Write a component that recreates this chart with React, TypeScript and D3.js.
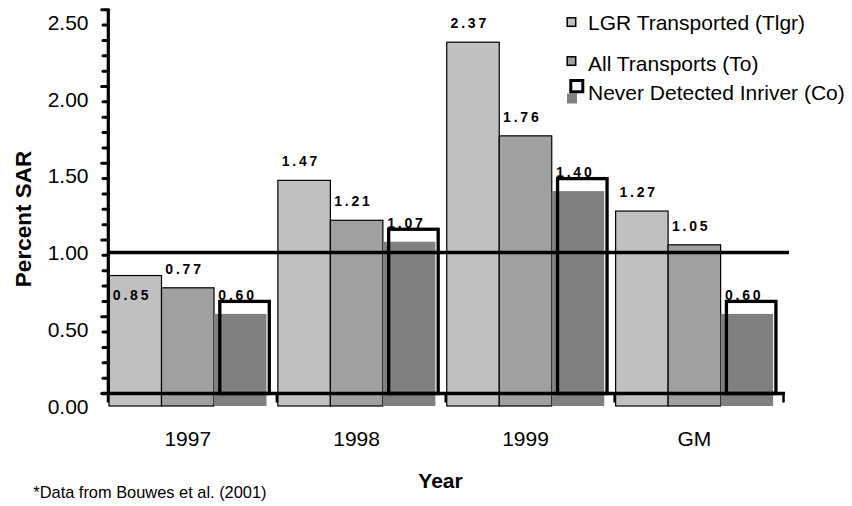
import React from "react";
import * as d3 from "d3";

const categories = ["1997", "1998", "1999", "GM"];
const seriesKeys = ["Tlgr", "To", "Co"];
const tlgrValues = [0.85, 1.47, 2.37, 1.27];
const toValues = [0.77, 1.21, 1.76, 1.05];
const coValues = [0.6, 1.07, 1.4, 0.6];
const labelInside = [[true, false, false], [false, false, false], [false, false, false], [false, false, false]];
const yTickValues = [0, 0.5, 1, 1.5, 2, 2.5];
const legendLabels = ["LGR Transported (Tlgr)", "All Transports (To)", "Never Detected Inriver (Co)"];
const referenceValue = 1.0;

const W = 852;
const H = 506;
const FONT = "'Liberation Sans', Arial, Helvetica, sans-serif";
const colors = ["#c0c0c0", "#a0a0a0", "#808080"];

export default function App() {
  // base system (bars, labels)
  const y = d3.scaleLinear().domain([0, 2.5]).range([406, 406 - 2.5 * 153.5]);
  // shifted system (axes, outline bars)
  const shiftX = 4.3;
  const shiftY = -12.5;
  const y2 = (v: number) => y(v) + shiftY;

  const x = d3.scaleBand<string>().domain(categories).range([108, 783.5]).paddingInner(0).paddingOuter(0);
  const xs = d3.scaleBand<string>().domain(seriesKeys).range([1, 158.5]);
  const bw = xs.bandwidth();
  const allValues = [tlgrValues, toValues, coValues];

  const minorTicks = d3.range(0, 26).map((i) => i / 10);
  const boundaries = categories.map((c) => x(c) as number).concat([x.range()[1]]);

  return (
    <svg width={W} height={H} style={{ position: "absolute", left: 0, top: 0, background: "#fff" }} fontFamily={FONT}>
      <rect x={0} y={0} width={W} height={H} fill="#fff" />
      {/* filled bars */}
      {categories.map((c, ci) => (
        <g key={c}>
          {seriesKeys.map((s, si) => {
            const v = allValues[si][ci];
            const bx = (x(c) as number) + (xs(s) as number);
            return (
              <rect
                key={s}
                x={bx}
                y={y(v)}
                width={bw}
                height={y(0) - y(v)}
                fill={colors[si]}
                stroke={si < 2 ? "#000" : "none"}
                strokeWidth={1.2}
              />
            );
          })}
        </g>
      ))}
      {/* outline bars (shifted) */}
      {categories.map((c, ci) => {
        const bx = (x(c) as number) + (xs("Co") as number) + shiftX;
        const v = coValues[ci];
        return (
          <rect
            key={"o" + c}
            x={bx + 1.5}
            y={y2(v)}
            width={bw - 3}
            height={y2(0) - y2(v)}
            fill="none"
            stroke="#000"
            strokeWidth={3.3}
          />
        );
      })}
      {/* reference line */}
      <line x1={108} x2={789} y1={y(referenceValue)} y2={y(referenceValue)} stroke="#000" strokeWidth={3.5} />
      {/* y axis (shifted) */}
      <line x1={108.3} x2={108.3} y1={y2(2.5) - 1} y2={y2(0)} stroke="#000" strokeWidth={3.2} />
      {minorTicks.map((t) => {
        const major = Math.abs(t * 2 - Math.round(t * 2)) < 1e-6;
        return (
          <line
            key={"t" + t}
            x1={major ? 101.7 : 103}
            x2={108.3}
            y1={y2(t)}
            y2={y2(t)}
            stroke="#000"
            strokeWidth={3}
            strokeLinecap="round"
          />
        );
      })}
      {/* x axis (shifted) */}
      <line x1={101.7} x2={785} y1={y2(0)} y2={y2(0)} stroke="#000" strokeWidth={3.5} />
      {boundaries.map((b, i) => (
        <line key={"b" + i} x1={b} x2={b} y1={y2(0)} y2={y2(0) + 8} stroke="#000" strokeWidth={2.5} strokeLinecap="round" />
      ))}
      {/* y tick labels */}
      {yTickValues.map((t) => (
        <text key={"yl" + t} x={88.5} y={y(t)} dy="0.36em" textAnchor="end" fontSize={21} fill="#000">
          {t.toFixed(2)}
        </text>
      ))}
      {/* x labels */}
      {categories.map((c) => (
        <text key={"xl" + c} x={(x(c) as number) + 1 + 157.5 / 2} y={445.5} textAnchor="middle" fontSize={21} fill="#000">
          {c}
        </text>
      ))}
      {/* value labels */}
      {categories.map((c, ci) =>
        seriesKeys.map((s, si) => {
          const v = allValues[si][ci];
          const bx = (x(c) as number) + (xs(s) as number) + 3.8 + (si === 2 ? 0.5 : 0);
          const inside = labelInside[ci][si];
          return (
            <text
              key={"vl" + c + s}
              x={bx}
              y={inside ? y(v) + 24 : y(v) - 14}
              fontSize={14}
              fontWeight="bold"
              letterSpacing={2.8}
              fill="#000"
            >
              {v.toFixed(2)}
            </text>
          );
        })
      )}
      {/* axis titles */}
      <text transform="translate(31,219) rotate(-90)" textAnchor="middle" fontSize={22.5} fontWeight="bold" fill="#000">
        Percent SAR
      </text>
      <text x={440.5} y={488} textAnchor="middle" fontSize={21} fontWeight="bold" fill="#000">
        Year
      </text>
      <text x={33.3} y={498} fontSize={16.4} fill="#000">
        *Data from Bouwes et al. (2001)
      </text>
      {/* legend */}
      <rect x={567.2} y={17.8} width={8.5} height={8.5} fill={colors[0]} stroke="#000" strokeWidth={1.5} />
      <text x={588} y={30} fontSize={21} fill="#000">{legendLabels[0]}</text>
      <rect x={567.2} y={56.8} width={8.5} height={8.5} fill={colors[1]} stroke="#000" strokeWidth={1.5} />
      <text x={588} y={70.5} fontSize={21} fill="#000">{legendLabels[1]}</text>
      <rect x={567} y={93.5} width={10} height={10} fill={colors[2]} />
      <rect x={570.8} y={80.5} width={12} height={11.3} fill="#fff" stroke="#000" strokeWidth={3} />
      <text x={588} y={100} fontSize={21} fill="#000">{legendLabels[2]}</text>
    </svg>
  );
}
